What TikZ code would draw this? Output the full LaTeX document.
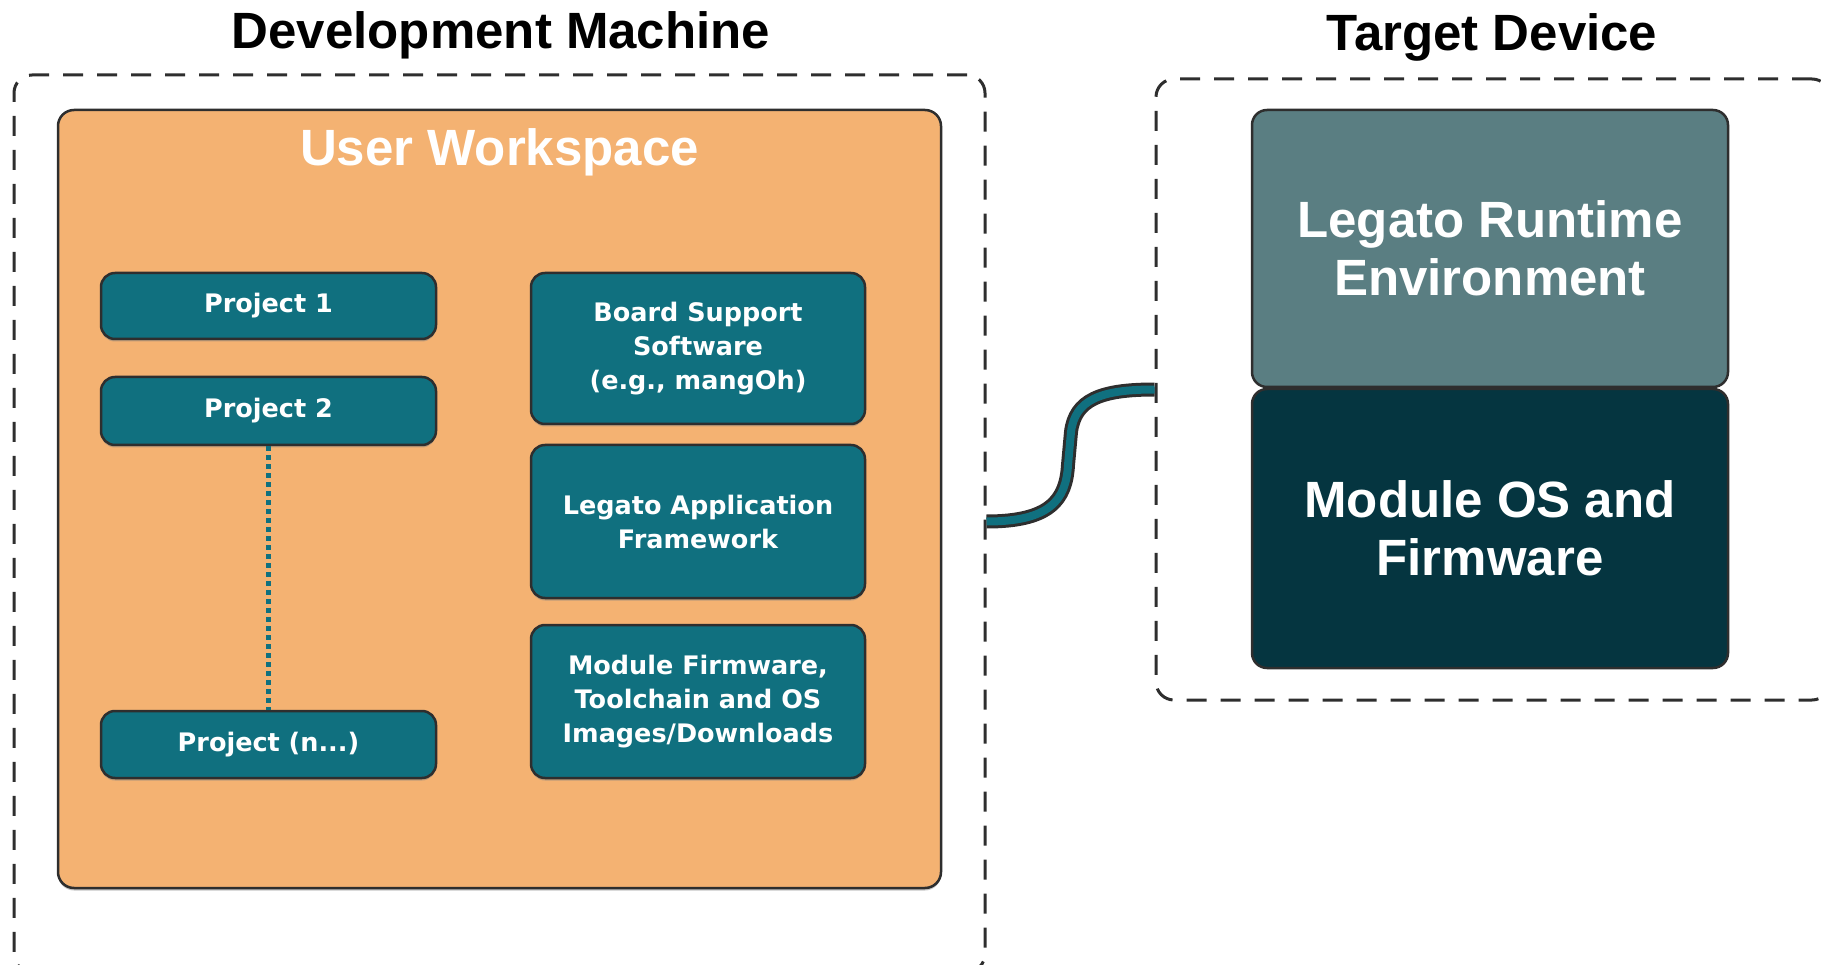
\documentclass[tikz,border=0pt]{standalone}
\usepackage{fontspec}
\setmainfont{Liberation Sans}
\newfontfamily\boxfont{DejaVu Sans}
\usetikzlibrary{calc,shadows}

\definecolor{wsorange}{HTML}{F4B272}
\definecolor{itemteal}{HTML}{10707F}
\definecolor{runtimegrey}{HTML}{5A7E82}
\definecolor{osdark}{HTML}{053540}
\definecolor{edge}{HTML}{2E2E2E}

\tikzset{
  groupbox/.style={draw=edge, line width=3pt, dash pattern=on 20pt off 14pt,
    rounded corners=18pt, inner sep=0pt},
  softshadow/.style={drop shadow={opacity=0.45, shadow xshift=0pt, shadow yshift=-2.5pt}},
  wsbox/.style={fill=wsorange, draw=edge, line width=2.5pt, rounded corners=16pt,
    inner sep=0pt, softshadow},
  itembox/.style={fill=itemteal, draw=edge, line width=2.5pt, rounded corners=14pt,
    text=white, align=center, inner sep=0pt, minimum width=335pt, softshadow,
    font=\boxfont\bfseries\fontsize{25.5}{34}\selectfont},
  devbox/.style={draw=edge, line width=2.5pt, rounded corners=15pt, text=white,
    align=center, inner sep=0pt, minimum width=476pt,
    font=\bfseries\fontsize{51}{58}\selectfont},
  grouptitle/.style={anchor=base, font=\bfseries\fontsize{51}{60}\selectfont},
  cable/.style={draw=edge, line width=3pt, double=itemteal, double distance=8pt},
  ellipsis/.style={draw=itemteal, line width=5.5pt, dash pattern=on 5pt off 4pt}
}

\begin{document}
\begin{tikzpicture}[x=1pt,y=-1pt]
\useasboundingbox (0,0) rectangle (1821,965);

% group outlines
\begin{scope}
\clip (0,0) rectangle (1821,965);
\node[groupbox, minimum width=971pt, minimum height=897pt] (dev) at (499.5,523.5) {};
\node[groupbox, minimum width=674pt, minimum height=621pt] (tgt) at (1493,389.5) {};
\end{scope}

\node[grouptitle] (devtitle) at (501,49) {Development Machine};
\node[grouptitle] (tgttitle) at (1492,51) {Target Device};

% user workspace
\node[wsbox, minimum width=883pt, minimum height=778pt] (ws) at (499.5,499) {};
\node[anchor=base, text=white, font=\bfseries\fontsize{51}{60}\selectfont] (wstitle)
  at ($(ws.north)+(0,57)$) {User Workspace};

% projects
\node[itembox, minimum height=66pt] (p1) at (268.5,306) {Project 1};
\node[itembox, minimum height=68pt] (p2) at (268.5,411) {Project 2};
\node[itembox, minimum height=67pt] (pn) at (268.5,744.5) {Project (n...)};
\draw[ellipsis] (p2.south) -- (pn.north);

% tools and frameworks
\node[itembox, minimum width=334pt, minimum height=151pt] (bss) at (698,348.5)
  {Board Support\\Software\\(e.g., mangOh)};
\node[itembox, minimum width=334pt, minimum height=153pt] (laf) at (698,521.5)
  {Legato Application\\Framework};
\node[itembox, minimum width=334pt, minimum height=153pt] (mfw) at (698,701.5)
  {Module Firmware,\\Toolchain and OS\\Images/Downloads};

% target stack
\node[devbox, fill=runtimegrey, minimum height=277pt] (lre) at (1490,248.5)
  {Legato Runtime\\Environment};
\node[devbox, fill=osdark, minimum height=279pt] (mos) at (1490,528.5)
  {Module OS and\\Firmware};

% link between machine and device
\coordinate (cablestart) at ($(dev.east)+(0,-2)$);
\draw[cable] (cablestart) .. controls (1050,521.5) and (1066,500) .. (1068,465)
  -- (1071,432) .. controls (1075,400) and (1100,389.5) .. (tgt.west);
\end{tikzpicture}
\end{document}
